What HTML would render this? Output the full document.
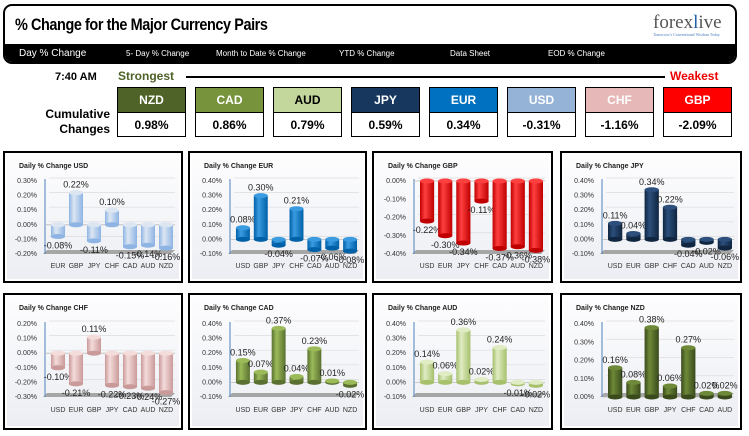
<!DOCTYPE html>
<html><head><meta charset="utf-8">
<style>
body{margin:0;width:749px;height:436px;background:#fff;position:relative;overflow:hidden;font-family:"Liberation Sans",sans-serif}
.abs{position:absolute}
#hdr{left:3px;top:4px;width:730px;height:56px;border:2px solid #000;border-radius:9px;overflow:hidden;background:#fff}
#title{left:10px;top:9px;font-family:"Liberation Sans Narrow","Liberation Sans",sans-serif;font-weight:bold;font-size:17px;letter-spacing:-0.5px;transform:scaleX(0.85);transform-origin:left}
#bar{left:0;top:38px;width:730px;height:18px;background:#000;color:#fff;font-size:8px}
#bar span{position:absolute;top:5px;white-space:nowrap}
.box{position:absolute;width:67px;height:48px;border:1px solid #000}
.box .n{height:24px;border-bottom:1px solid #000;color:#fff;font-weight:bold;font-size:12px;text-align:center;line-height:24px}
.box .v{height:23px;background:#fff;font-weight:bold;font-size:12px;text-align:center;line-height:24px}
.panel{position:absolute;border:2px solid #000;background:#fff}
</style></head><body>
<div id="hdr" class="abs">
 <div id="title" class="abs">% Change for the Major Currency Pairs</div>
 <div class="abs" style="left:648px;top:6px;font-family:'Liberation Serif',serif;font-size:19px;color:#555">forex<span style="color:#1f5fa8">l</span>ive<div style="font-size:4px;color:#4a7cc0;margin-top:-2px">Tomorrow's Conventional Wisdom Today</div></div>
 <div id="bar" class="abs">
  <span style="left:14px;top:4px;font-size:10px">Day % Change</span>
  <span style="left:121px">5- Day % Change</span>
  <span style="left:211px">Month to Date % Change</span>
  <span style="left:334px">YTD % Change</span>
  <span style="left:445px">Data Sheet</span>
  <span style="left:543px">EOD % Change</span>
 </div>
</div>
<div class="abs" style="left:55px;top:71px;font-weight:bold;font-size:11px">7:40 AM</div>
<div class="abs" style="left:118px;top:69px;font-weight:bold;font-size:12px;color:#4f6228">Strongest</div>
<div class="abs" style="left:186px;top:76px;width:479px;height:2px;background:#000"></div>
<div class="abs" style="left:670px;top:69px;font-weight:bold;font-size:12px;color:#e00">Weakest</div>
<div class="abs" style="left:38px;top:107px;font-weight:bold;font-size:12px;text-align:right;width:72px;line-height:15px">Cumulative Changes</div>
<div id="boxes"></div>
<div id="panels"></div>
<script>
const rankNames=["NZD","CAD","AUD","JPY","EUR","USD","CHF","GBP"];
const rankValues=["0.98%","0.86%","0.79%","0.59%","0.34%","-0.31%","-1.16%","-2.09%"];
const colors={USD:["#8eb4e3","#dce6f2","#95b3d7"],EUR:["#0060a8","#3a9be0","#0070c0"],GBP:["#c00000","#ff4040","#ff0000"],JPY:["#0f2540","#2c4f7c","#17375e"],CHF:["#c99a99","#f4dcdb","#e6b8b7"],CAD:["#5a7030","#9bbb59","#77933c"],AUD:["#a6c06c","#e0ecc4","#c3d69b"],NZD:["#3a4a1c","#6e8a38","#4f6228"]};
const boxes=document.getElementById('boxes');
rankNames.forEach((n,i)=>{const b=document.createElement('div');b.className='box';b.style.left=(117+i*78)+'px';b.style.top='87px';


b.innerHTML='<div class="n" style="background:'+colors[n][2]+';color:'+(n==='AUD'?'#000':'#fff')+'">'+n+'</div><div class="v">'+rankValues[i]+'</div>';boxes.appendChild(b);});

const usdCats=["EUR","GBP","JPY","CHF","CAD","AUD","NZD"], usdVals=[-0.08,0.22,-0.11,0.10,-0.15,-0.14,-0.16];
const eurCats=["USD","GBP","JPY","CHF","CAD","AUD","NZD"], eurVals=[0.08,0.30,-0.04,0.21,-0.07,-0.06,-0.08];
const gbpCats=["USD","EUR","JPY","CHF","CAD","AUD","NZD"], gbpVals=[-0.22,-0.30,-0.34,-0.11,-0.37,-0.36,-0.38];
const jpyCats=["USD","EUR","GBP","CHF","CAD","AUD","NZD"], jpyVals=[0.11,0.04,0.34,0.22,-0.04,-0.02,-0.06];
const chfCats=["USD","EUR","GBP","JPY","CAD","AUD","NZD"], chfVals=[-0.10,-0.21,0.11,-0.22,-0.23,-0.24,-0.27];
const cadCats=["USD","EUR","GBP","JPY","CHF","AUD","NZD"], cadVals=[0.15,0.07,0.37,0.04,0.23,0.01,-0.02];
const audCats=["USD","EUR","GBP","JPY","CHF","CAD","NZD"], audVals=[0.14,0.06,0.36,0.02,0.24,-0.01,-0.02];
const nzdCats=["USD","EUR","GBP","JPY","CHF","CAD","AUD"], nzdVals=[0.16,0.08,0.38,0.06,0.27,0.02,0.02];
const usdTicks=[0.30,0.20,0.10,0.00,-0.10,-0.20];
const eurTicks=[0.40,0.30,0.20,0.10,0.00,-0.10];
const gbpTicks=[0.00,-0.10,-0.20,-0.30,-0.40];
const jpyTicks=[0.40,0.30,0.20,0.10,0.00,-0.10];
const chfTicks=[0.20,0.10,0.00,-0.10,-0.20,-0.30];
const cadTicks=[0.40,0.30,0.20,0.10,0.00,-0.10];
const audTicks=[0.40,0.30,0.20,0.10,0.00,-0.10];
const nzdTicks=[0.40,0.30,0.20,0.10,0.00];

const panels=[
 {cur:"USD",x:3,y:151,w:180,h:132,c:usdCats,v:usdVals,t:usdTicks},
 {cur:"EUR",x:188,y:151,w:179,h:132,c:eurCats,v:eurVals,t:eurTicks},
 {cur:"GBP",x:372,y:151,w:181,h:132,c:gbpCats,v:gbpVals,t:gbpTicks},
 {cur:"JPY",x:560,y:151,w:182,h:132,c:jpyCats,v:jpyVals,t:jpyTicks},
 {cur:"CHF",x:3,y:293,w:180,h:137,c:chfCats,v:chfVals,t:chfTicks},
 {cur:"CAD",x:188,y:293,w:179,h:137,c:cadCats,v:cadVals,t:cadTicks},
 {cur:"AUD",x:372,y:293,w:181,h:137,c:audCats,v:audVals,t:audTicks},
 {cur:"NZD",x:560,y:293,w:182,h:137,c:nzdCats,v:nzdVals,t:nzdTicks}];
const NS="http://www.w3.org/2000/svg";
function mk(tag,attrs,parent){const e=document.createElementNS(NS,tag);for(const k in attrs)e.setAttribute(k,attrs[k]);parent.appendChild(e);return e;}
const host=document.getElementById('panels');
panels.forEach(p=>{
 const d=document.createElement('div');d.className='panel';
 d.style.left=p.x+'px';d.style.top=p.y+'px';d.style.width=(p.w-4)+'px';d.style.height=(p.h-4)+'px';
 
 
 host.appendChild(d);
 const W=p.w-4,H=p.h-4;
 const svg=mk('svg',{width:W,height:H},d);
 const id=p.cur;
 const defs=mk('defs',{},svg);
 const bg=mk('linearGradient',{id:'bg'+id,x1:0,y1:0,x2:0,y2:1},defs);
 mk('stop',{offset:0,'stop-color':'#fdfdfe'},bg);mk('stop',{offset:1,'stop-color':'#eceef3'},bg);
 const g=mk('linearGradient',{id:'g'+id,x1:0,y1:0,x2:1,y2:0},defs);
 mk('stop',{offset:0,'stop-color':colors[id][0]},g);mk('stop',{offset:0.35,'stop-color':colors[id][1]},g);mk('stop',{offset:1,'stop-color':colors[id][0]},g);
 mk('rect',{x:2,y:2,width:W-4,height:H-4,fill:'url(#bg'+id+')'},svg);
 const tt=mk('text',{x:14,y:15,'font-size':7,'font-weight':'bold',fill:'#222','font-family':'Liberation Sans'},svg);
 tt.textContent='Daily % Change '+id;
 
 
 const row2=p.y>200;
 const top=row2?29:28, bot=row2?102:101, left=40, right=W-6;
 const ymax=Math.max(...p.t), ymin=Math.min(...p.t);
 const Y=v=>top+(ymax-v)/(ymax-ymin)*(bot-top);
 // floor
 mk('polygon',{points:(left+2)+','+(bot-4)+' '+(right)+','+(bot-4)+' '+(right-4)+','+bot+' '+(left-2)+','+bot,fill:'#a6a6a6'},svg);
 p.t.forEach(t=>{
  const y=Y(t);
  if(t!==ymin) mk('line',{x1:left+4,x2:right,y1:y-3,y2:y-3,stroke:'#dcdcdc','stroke-width':0.7},svg);
  const tx=mk('text',{x:left-8,y:y+2,'font-size':7,'text-anchor':'end',fill:'#333'},svg);
  tx.textContent=t.toFixed(2)+'%';
  
  
 });
 mk('line',{x1:left,x2:left,y1:top-2,y2:bot,stroke:'#4f81bd','stroke-width':1},svg);
 const zero=Y(0);
 mk('line',{x1:left,x2:right,y1:zero,y2:zero,stroke:'#bbb','stroke-width':0.8},svg);
 const n=p.c.length, slot=(right-left-4)/n, bw=slot*0.78;
 p.c.forEach((c,i)=>{
  const cx=left+4+slot*(i+0.5), v=p.v[i], yv=Y(v);
  const y0=Math.min(zero,yv), h=Math.abs(zero-yv);
  const r=mk('rect',{x:cx-bw/2,y:y0,width:bw,height:h,fill:'url(#g'+id+')'},svg);
  
  
  mk('ellipse',{cx:cx,cy:v>=0?y0+h:y0+h,rx:bw/2,ry:2.5,fill:colors[id][0]},svg);
  mk('ellipse',{cx:cx,cy:v>=0?y0:y0,rx:bw/2,ry:2.5,fill:colors[id][1]},svg);
  const lbl=mk('text',{x:cx,y:v>=0?yv-5:yv+12,'font-size':9,'text-anchor':'middle',fill:'#222'},svg);
  lbl.textContent=v.toFixed(2)+'%';
  
  
  const cl=mk('text',{x:cx,y:row2?117:115,'font-size':7,'text-anchor':'middle',fill:'#333'},svg);
  cl.textContent=c;
  
  
 });
});
</script>
</body></html>
